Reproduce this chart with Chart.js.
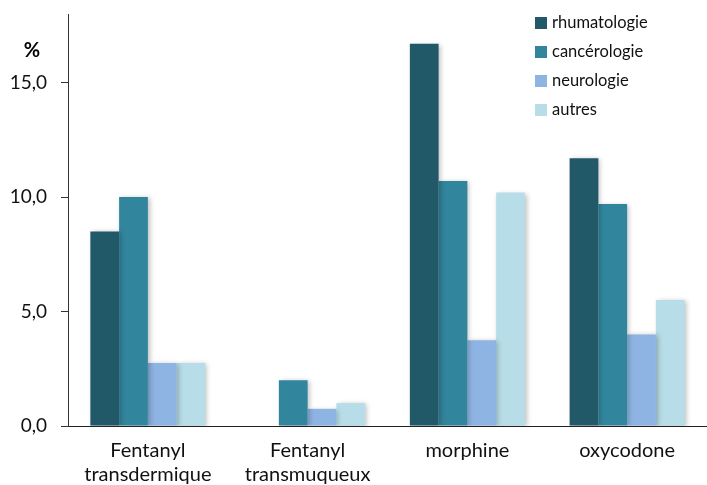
<!DOCTYPE html>
<html><head><meta charset="utf-8">
<script src="https://cdn.jsdelivr.net/npm/chart.js@4/dist/chart.umd.min.js"></script>
<style>html,body{margin:0;padding:0;background:#fff}#wrap{width:707px;height:485px;position:relative}</style>
</head><body><div id="wrap"><canvas id="c"></canvas></div>
<script>
const categories = [["Fentanyl","transdermique"],["Fentanyl","transmuqueux"],"morphine","oxycodone"];
const seriesNames = ["rhumatologie","cancérologie","neurologie","autres"];
const rhumatologie = [8.5, 0, 16.7, 11.7];
const cancerologie = [10.0, 2.0, 10.7, 9.7];
const neurologie = [2.75, 0.75, 3.75, 4.0];
const autres = [2.75, 1.0, 10.2, 5.5];
const yTicks = [0, 5, 10, 15];
const yMax = 18;
const colors = ["#215968","#31859C","#8EB4E3","#B7DEE8"];
const FONT = "Lato, 'Open Sans', sans-serif";

const seriesData = [rhumatologie, cancerologie, neurologie, autres];

const shadowPlugin = {
  id:'shadow',
  beforeDatasetsDraw(chart){ const c=chart.ctx; c.save(); c.shadowColor='rgba(0,0,0,0.25)'; c.shadowBlur=5; c.shadowOffsetX=2; c.shadowOffsetY=1; },
  afterDatasetsDraw(chart){ chart.ctx.restore(); }
};
const extras = {
  id:'extras',
  afterDraw(chart){
    const c = chart.ctx; c.save();
    c.fillStyle='#000'; c.font="bold 20px "+FONT; c.textAlign='center'; c.textBaseline='middle';
    c.fillText('%', 32, 51);
    c.font="16.5px "+FONT; c.textAlign='left';
    chart.data.datasets.forEach((ds,i)=>{
      const y = 23 + i*29;
      c.fillStyle = ds.backgroundColor; c.fillRect(535, y-6, 12, 12);
      c.fillStyle='#111'; c.fillText(ds.label, 552, y);
    });
    c.restore();
  }
};

new Chart(document.getElementById('c'), {
  type:'bar',
  data:{ labels:categories, datasets: seriesNames.map((n,i)=>({label:n, data:seriesData[i], backgroundColor:colors[i], borderWidth:0, categoryPercentage:0.72, barPercentage:1})) },
  options:{
    responsive:true, maintainAspectRatio:false, animation:false,
    layout:{padding:{top:14,right:0,left:0,bottom:0}},
    plugins:{legend:{display:false}, tooltip:{enabled:false}},
    scales:{
      x:{ grid:{display:false, drawTicks:false}, border:{display:true,color:'#222',width:1},
          ticks:{color:'#111', font:{family:FONT,size:20, lineHeight:1.2}, padding:13, maxRotation:0, autoSkip:false},
          afterFit(s){ s.height = 59; s.paddingLeft = 0; s.paddingRight = 0; } },
      y:{ min:0, max:yMax,
          afterBuildTicks(s){ s.ticks = yTicks.map(v=>({value:v})); },
          grid:{drawOnChartArea:false, drawTicks:true, tickLength:7, color:'#333'},
          border:{display:true,color:'#333',width:1},
          ticks:{color:'#111', font:{family:FONT,size:19}, padding:14, callback:v=>v.toFixed(1).replace('.',',')},
          afterFit(s){ s.width = 68; s.paddingTop = 0; s.paddingBottom = 0; } }
    }
  },
  plugins:[shadowPlugin, extras]
});
</script></body></html>
